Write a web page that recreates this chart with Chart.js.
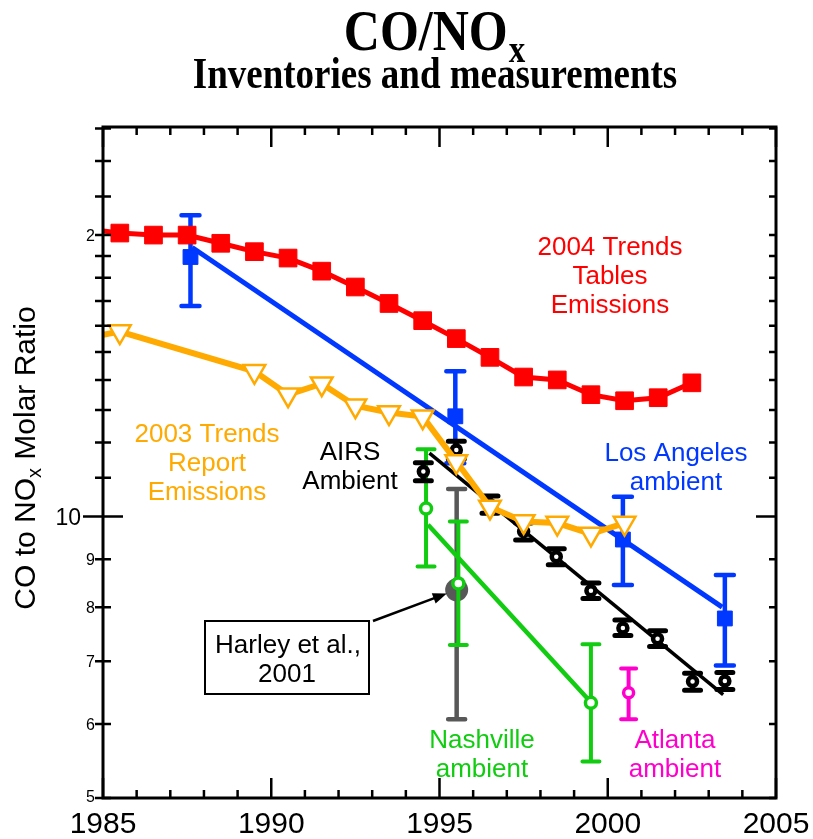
<!DOCTYPE html>
<html>
<head>
<meta charset="utf-8">
<title>CO/NOx inventories and measurements</title>
<script src="https://cdn.jsdelivr.net/npm/chart.js@4/dist/chart.umd.min.js"></script>
<style>
  html, body { margin: 0; padding: 0; background: #fff; }
  #wrap { width: 813px; height: 839px; }
</style>
</head>
<body>
<div id="wrap"><canvas id="chart" width="813" height="839"></canvas></div>
<script>
// ---- Axis ranges and tick labels ----
const xRange = [1985, 2005];
const yRange = [5, 26.1];
const xMajorTicks = [1985, 1990, 1995, 2000, 2005];
const xTickLabels = ['1985', '1990', '1995', '2000', '2005'];
const yLabelValues = [5, 6, 7, 8, 9, 10, 20];
const yTickLabels = ['5', '6', '7', '8', '9', '10', '2'];
const yMajorTicks = [10];
const yMinorTicks = [5, 6, 7, 8, 9, 11, 12, 13, 14, 15, 16, 17, 18, 19, 20, 22, 24, 26];

// ---- 2004 Trends Tables emissions (first entry only starts the line at the axis) ----
const trends2004Years = [1985.0, 1985.5, 1986.5, 1987.5, 1988.5, 1989.5, 1990.5, 1991.5, 1992.5, 1993.5,
                         1994.5, 1995.5, 1996.5, 1997.5, 1998.5, 1999.5, 2000.5, 2001.5, 2002.5];
const trends2004Values = [20.2, 20.1, 20.0, 20.0, 19.6, 19.2, 18.9, 18.3, 17.6, 16.9,
                          16.2, 15.5, 14.8, 14.1, 14.0, 13.5, 13.3, 13.4, 13.9];

// ---- 2003 Trends Report emissions (first entry only starts the line at the axis) ----
const trends2003Years = [1985.0, 1985.5, 1989.5, 1990.5, 1991.5, 1992.5, 1993.5, 1994.5,
                         1995.5, 1996.5, 1997.5, 1998.5, 1999.5, 2000.5];
const trends2003Values = [15.65, 15.77, 14.3, 13.5, 13.87, 13.14, 12.92, 12.79,
                          11.45, 10.24, 9.88, 9.84, 9.58, 9.84];

// ---- Los Angeles ambient ----
const laYears = [1987.6, 1995.47, 2000.45, 2003.48];
const laValues = [18.95, 12.8, 9.45, 7.78];
const laLow = [16.8, 11.4, 8.45, 6.93];
const laHigh = [21.0, 14.3, 10.5, 8.66];
const laFitYears = [1987.65, 2003.4];
const laFitValues = [19.4, 8.0];

// ---- AIRS ambient ----
const airsYears = [1994.52, 1995.5, 1996.5, 1997.5, 1998.47, 1999.5, 2000.45, 2001.48, 2002.52, 2003.48];
const airsValues = [11.17, 11.78, 10.3, 9.64, 9.06, 8.33, 7.6, 7.4, 6.66, 6.67];
const airsLow = [10.92, 11.52, 10.08, 9.44, 8.88, 8.17, 7.46, 7.26, 6.52, 6.53];
const airsHigh = [11.42, 12.04, 10.52, 9.84, 9.24, 8.49, 7.75, 7.55, 6.8, 6.81];
const airsFitYears = [1994.7, 2003.43];
const airsFitValues = [11.69, 6.45];

// ---- Nashville ambient ----
const nashYears = [1994.6, 1995.56, 1999.5];
const nashValues = [10.2, 8.48, 6.32];
const nashLow = [8.84, 7.29, 5.47];
const nashHigh = [11.8, 9.88, 7.3];
const nashFitYears = [1994.66, 1999.5];
const nashFitValues = [9.8, 6.33];

// ---- Harley et al., 2001 ----
const harleyYears = [1995.51];
const harleyValues = [8.35];
const harleyLow = [6.07];
const harleyHigh = [10.7];

// ---- Atlanta ambient ----
const atlYears = [2000.62];
const atlValues = [6.48];
const atlLow = [6.07];
const atlHigh = [6.88];

const RED = '#ff0000', ORANGE = '#ffaa00', BLUE = '#0038ff', GREEN = '#11cc11',
      GRAY = '#585858', MAGENTA = '#ff00cc', BLACK = '#000000';

const toPoints = (xs, ys) => xs.map((x, i) => ({ x, y: ys[i] }));

// Vertical error bars with caps, drawn just beneath each dataset's own markers
const errorBarPlugin = {
  id: 'errorBars',
  beforeDatasetDraw(chart, args) {
    const ds = chart.data.datasets[args.index];
    if (!ds.errLow) return;
    const { ctx, scales: { x, y } } = chart;
    ctx.save();
    ctx.strokeStyle = ds.errColor;
    ctx.lineWidth = ds.errWidth;
    ctx.lineCap = 'round';
    ds.data.forEach((p, i) => {
      const px = x.getPixelForValue(p.x);
      const yl = y.getPixelForValue(ds.errLow[i]);
      const yh = y.getPixelForValue(ds.errHigh[i]);
      const hw = ds.capWidth / 2;
      ctx.beginPath();
      ctx.moveTo(px, yl); ctx.lineTo(px, yh);
      ctx.moveTo(px - hw, yl); ctx.lineTo(px + hw, yl);
      ctx.moveTo(px - hw, yh); ctx.lineTo(px + hw, yh);
      ctx.stroke();
    });
    ctx.restore();
  }
};

// Series captions
const seriesLabels = [
  { lines: ['2004 Trends', 'Tables', 'Emissions'], color: RED, x: 610, y: 255 },
  { lines: ['2003 Trends', 'Report', 'Emissions'], color: ORANGE, x: 207, y: 442 },
  { lines: ['AIRS', 'Ambient'], color: BLACK, x: 350, y: 460 },
  { lines: ['Los Angeles', 'ambient'], color: BLUE, x: 676, y: 461 },
  { lines: ['Nashville', 'ambient'], color: GREEN, x: 482, y: 748 },
  { lines: ['Atlanta', 'ambient'], color: MAGENTA, x: 675, y: 748 }
];
const harleyBox = { left: 205, top: 621, right: 369, bottom: 694, lines: ['Harley et al.,', '2001'] };

function drawStretched(ctx, text, x, y, font, sy) {
  ctx.save();
  ctx.font = font;
  ctx.translate(x, y);
  ctx.scale(1, sy);
  ctx.fillText(text, 0, 0);
  ctx.restore();
}

// Frame, ticks, tick labels, titles and captions
const decorPlugin = {
  id: 'decor',
  afterDatasetsDraw(chart) {
    const { ctx, chartArea: a, scales: { x, y } } = chart;
    ctx.save();
    ctx.fillStyle = BLACK;
    ctx.strokeStyle = BLACK;

    // ticks
    ctx.lineWidth = 2.5;
    ctx.lineCap = 'butt';
    ctx.beginPath();
    for (let yr = xRange[0]; yr <= xRange[1]; yr++) {
      const px = x.getPixelForValue(yr);
      const len = xMajorTicks.includes(yr) ? 20 : 8;
      ctx.moveTo(px, a.bottom); ctx.lineTo(px, a.bottom - len);
      ctx.moveTo(px, a.top); ctx.lineTo(px, a.top + len);
    }
    yMajorTicks.forEach(v => {
      const py = y.getPixelForValue(v);
      ctx.moveTo(a.left - 20, py); ctx.lineTo(a.left + 20, py);
      ctx.moveTo(a.right - 20, py); ctx.lineTo(a.right, py);
    });
    yMinorTicks.forEach(v => {
      const py = y.getPixelForValue(v);
      ctx.moveTo(a.left - 8, py); ctx.lineTo(a.left + 8, py);
      ctx.moveTo(a.right - 7, py); ctx.lineTo(a.right, py);
    });
    ctx.stroke();

    // frame
    ctx.lineWidth = 3;
    ctx.strokeRect(a.left, a.top, a.right - a.left, a.bottom - a.top);

    // x tick labels
    ctx.font = '30px "Liberation Sans", Arial, sans-serif';
    ctx.textAlign = 'center';
    ctx.textBaseline = 'alphabetic';
    xMajorTicks.forEach((v, i) => ctx.fillText(xTickLabels[i], x.getPixelForValue(v), a.bottom + 35));

    // y tick labels
    ctx.textAlign = 'right';
    yLabelValues.forEach((v, i) => {
      const py = y.getPixelForValue(v);
      const major = yMajorTicks.includes(v);
      const size = major ? 23 : 16;
      ctx.font = size + 'px "Liberation Sans", Arial, sans-serif';
      ctx.fillText(yTickLabels[i], major ? a.left - 22 : a.left - 8, py + size * 0.36 - (v === 5 ? 2 : 0));
    });

    // y axis title with subscript
    ctx.save();
    ctx.translate(34.5, 458);
    ctx.rotate(-Math.PI / 2);
    const mainFont = '30px "Liberation Sans", Arial, sans-serif';
    const subFont = '20px "Liberation Sans", Arial, sans-serif';
    ctx.font = mainFont;
    const p1 = 'CO to NO', p3 = ' Molar Ratio';
    const w1 = ctx.measureText(p1).width, w3 = ctx.measureText(p3).width;
    ctx.font = subFont;
    const w2 = ctx.measureText('x').width;
    let sx = -(w1 + w2 + w3) / 2;
    ctx.textAlign = 'left';
    ctx.font = mainFont; ctx.fillText(p1, sx, 0); sx += w1;
    ctx.font = subFont; ctx.fillText('x', sx, 6); sx += w2;
    ctx.font = mainFont; ctx.fillText(p3, sx, 0);
    ctx.restore();

    // chart title and subtitle
    ctx.textAlign = 'left';
    const tFont = 'bold 50px "Liberation Serif", "Times New Roman", serif';
    const tSubFont = 'bold 33px "Liberation Serif", "Times New Roman", serif';
    ctx.font = tFont;
    const tw1 = ctx.measureText('CO/NO').width;
    ctx.font = tSubFont;
    const tw2 = ctx.measureText('x').width;
    const tx = 434 - (tw1 + tw2) / 2;
    drawStretched(ctx, 'CO/NO', tx, 50, tFont, 1.12);
    drawStretched(ctx, 'x', tx + tw1 + 1, 61.5, tSubFont, 1.12);
    const sFont = 'bold 37px "Liberation Serif", "Times New Roman", serif';
    ctx.font = sFont;
    const sw = ctx.measureText('Inventories and measurements').width;
    drawStretched(ctx, 'Inventories and measurements', 435 - sw / 2, 88, sFont, 1.2);

    // series captions
    ctx.textAlign = 'center';
    ctx.font = '26px "Liberation Sans", Arial, sans-serif';
    seriesLabels.forEach(lbl => {
      ctx.fillStyle = lbl.color;
      lbl.lines.forEach((t, i) => ctx.fillText(t, lbl.x, lbl.y + i * 29));
    });

    // Harley et al. box with arrow to its point
    ctx.fillStyle = '#fff';
    ctx.fillRect(harleyBox.left, harleyBox.top, harleyBox.right - harleyBox.left, harleyBox.bottom - harleyBox.top);
    ctx.fillStyle = BLACK;
    ctx.lineWidth = 2;
    ctx.strokeRect(harleyBox.left, harleyBox.top, harleyBox.right - harleyBox.left, harleyBox.bottom - harleyBox.top);
    const bx = (harleyBox.left + harleyBox.right) / 2;
    ctx.fillText(harleyBox.lines[0], bx + 1, 653);
    ctx.fillText(harleyBox.lines[1], bx, 682);

    const gx = x.getPixelForValue(harleyYears[0]);
    const gy = y.getPixelForValue(harleyValues[0]);
    const sx0 = harleyBox.right + 4, sy0 = harleyBox.top;
    const dx = gx - sx0, dy = gy - sy0, dl = Math.hypot(dx, dy);
    const ux = dx / dl, uy = dy / dl;
    const tipX = gx - ux * 10.5, tipY = gy - uy * 10.5;
    const headLen = 14, headW = 5.5;
    ctx.lineWidth = 2.5;
    ctx.beginPath();
    ctx.moveTo(sx0, sy0);
    ctx.lineTo(tipX - ux * headLen * 0.8, tipY - uy * headLen * 0.8);
    ctx.stroke();
    ctx.beginPath();
    ctx.moveTo(tipX, tipY);
    ctx.lineTo(tipX - ux * headLen - uy * headW, tipY - uy * headLen + ux * headW);
    ctx.lineTo(tipX - ux * headLen + uy * headW, tipY - uy * headLen - ux * headW);
    ctx.closePath();
    ctx.fill();

    ctx.restore();
  }
};

const datasets = [
  {
    label: '2003 Trends Report Emissions', order: 1, showLine: true,
    data: toPoints(trends2003Years, trends2003Values),
    borderColor: ORANGE, borderWidth: 6, tension: 0,
    pointStyle: 'triangle', pointRotation: 180,
    pointRadius: c => (c.dataIndex === 0 ? 0 : 12.5),
    pointBackgroundColor: '#fff', pointBorderColor: ORANGE, pointBorderWidth: 2.5
  },
  {
    label: 'AIRS Ambient', order: 2, showLine: false,
    data: toPoints(airsYears, airsValues),
    errLow: airsLow, errHigh: airsHigh, errColor: BLACK, errWidth: 5, capWidth: 16,
    pointStyle: 'circle', pointRadius: 4.5,
    pointBackgroundColor: '#fff', pointBorderColor: BLACK, pointBorderWidth: 4.5
  },
  {
    label: 'AIRS trend', order: 3, showLine: true,
    data: toPoints(airsFitYears, airsFitValues),
    borderColor: BLACK, borderWidth: 3.5, pointRadius: 0
  },
  {
    label: 'Nashville ambient', order: 4, showLine: false,
    data: toPoints(nashYears, nashValues),
    errLow: nashLow, errHigh: nashHigh, errColor: GREEN, errWidth: 4, capWidth: 17,
    pointStyle: 'circle', pointRadius: 5.5,
    pointBackgroundColor: '#fff', pointBorderColor: GREEN, pointBorderWidth: 3.5
  },
  {
    label: 'Nashville trend', order: 5, showLine: true,
    data: toPoints(nashFitYears, nashFitValues),
    borderColor: GREEN, borderWidth: 4.5, pointRadius: 0
  },
  {
    label: 'Harley et al., 2001', order: 6, showLine: false,
    data: toPoints(harleyYears, harleyValues),
    errLow: harleyLow, errHigh: harleyHigh, errColor: GRAY, errWidth: 4.5, capWidth: 17,
    pointStyle: 'circle', pointRadius: 11.5,
    pointBackgroundColor: GRAY, pointBorderColor: GRAY, pointBorderWidth: 0
  },
  {
    label: 'Atlanta ambient', order: 0, showLine: false,
    data: toPoints(atlYears, atlValues),
    errLow: atlLow, errHigh: atlHigh, errColor: MAGENTA, errWidth: 4, capWidth: 15,
    pointStyle: 'circle', pointRadius: 5,
    pointBackgroundColor: '#fff', pointBorderColor: MAGENTA, pointBorderWidth: 3.5
  },
  {
    label: '2004 Trends Tables Emissions', order: 7, showLine: true,
    data: toPoints(trends2004Years, trends2004Values),
    borderColor: RED, borderWidth: 5, tension: 0,
    pointStyle: 'rect',
    pointRadius: c => (c.dataIndex === 0 ? 0 : 12.5),
    pointBackgroundColor: RED, pointBorderColor: RED, pointBorderWidth: 1
  },
  {
    label: 'Los Angeles ambient', order: 8, showLine: false,
    data: toPoints(laYears, laValues),
    errLow: laLow, errHigh: laHigh, errColor: BLUE, errWidth: 4.5, capWidth: 18,
    pointStyle: 'rect', pointRadius: 10.5,
    pointBackgroundColor: BLUE, pointBorderColor: BLUE, pointBorderWidth: 1
  },
  {
    label: 'Los Angeles trend', order: 9, showLine: true,
    data: toPoints(laFitYears, laFitValues),
    borderColor: BLUE, borderWidth: 5, pointRadius: 0
  }
];

new Chart(document.getElementById('chart'), {
  type: 'scatter',
  data: { datasets },
  options: {
    responsive: false,
    animation: false,
    events: [],
    layout: { padding: { left: 103, right: 37, top: 127, bottom: 41 } },
    plugins: { legend: { display: false }, tooltip: { enabled: false }, title: { display: false } },
    scales: {
      x: { type: 'linear', min: xRange[0], max: xRange[1], display: false },
      y: { type: 'logarithmic', min: yRange[0], max: yRange[1], display: false }
    }
  },
  plugins: [errorBarPlugin, decorPlugin]
});
</script>
</body>
</html>
